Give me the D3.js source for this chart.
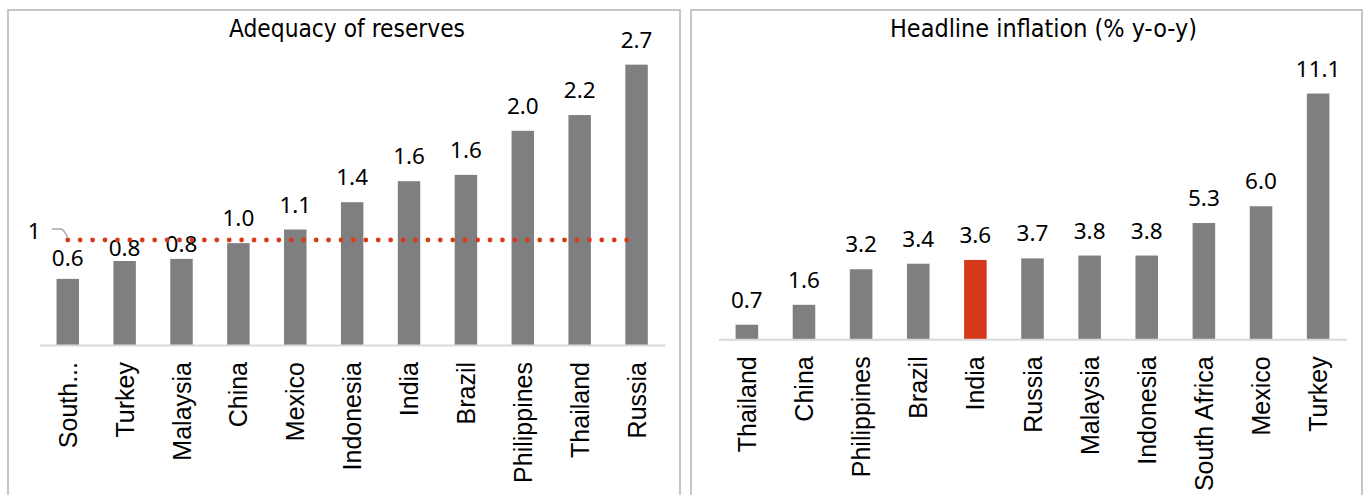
<!DOCTYPE html>
<html>
<head>
<meta charset="utf-8">
<script src="https://cdn.jsdelivr.net/npm/d3@7/dist/d3.min.js"></script>
<style>
  body { margin: 0; background: #ffffff; }
  svg { display: block; }
</style>
</head>
<body>
<svg id="chart" width="1364" height="495"></svg>
<script>
// Reserve adequacy ratio by country (sorted ascending)
const reserveCountries = ["South Africa", "Turkey", "Malaysia", "China", "Mexico", "Indonesia",
  "India", "Brazil", "Philippines", "Thailand", "Russia"];
const reserveValues = [0.63, 0.80, 0.82, 0.97, 1.10, 1.36, 1.56, 1.62, 2.04, 2.19, 2.67];
const reserveThreshold = 1;

// Headline CPI inflation, % y-o-y (sorted ascending)
const inflationCountries = ["Thailand", "China", "Philippines", "Brazil", "India", "Russia",
  "Malaysia", "Indonesia", "South Africa", "Mexico", "Turkey"];
const inflationValues = [0.66, 1.56, 3.17, 3.42, 3.59, 3.66, 3.79, 3.79, 5.26, 6.02, 11.12];
const highlightCountry = "India";

const titles = ["Adequacy of reserves", "Headline inflation (% y-o-y)"];

const svg = d3.select("#chart");
const GREY = "#7f7f7f";
const RED = "#d5381a";
const VALUE_FONT = "'Noto Sans', 'Liberation Sans', Arial, sans-serif";
const LABEL_FONT = "'Liberation Sans', Arial, sans-serif";
const TITLE_FONT = "'Liberation Sans Narrow', 'DejaVu Sans Condensed', 'Liberation Sans', sans-serif";

svg.append("rect").attr("width", 1364).attr("height", 495).attr("fill", "#fff");

// panel frames (open at the bottom edge of the canvas)
[[8, 680], [691, 1362]].forEach(([x0, x1]) => {
  svg.append("path")
    .attr("d", `M${x0},500 V10 H${x1} V500`)
    .attr("fill", "none")
    .attr("stroke", "#b4b4b4")
    .attr("stroke-width", 1.5);
});

function drawPanel(opts) {
  const { countries, values, xRange, baseline, yMax, yTop, title, titleX, titleWidth,
          tickText, colorOf, labelLift } = opts;
  const data = countries.map((c, i) => ({ c, v: values[i] }));

  const x = d3.scaleBand().domain(countries).range(xRange)
    .paddingInner(0.605).paddingOuter(0.3025);
  const y = d3.scaleLinear().domain([0, yMax]).range([baseline, yTop]);

  const g = svg.append("g");

  // bars
  g.selectAll("rect.bar").data(data).join("rect")
    .attr("class", "bar")
    .attr("x", d => x(d.c))
    .attr("y", d => y(d.v))
    .attr("width", x.bandwidth())
    .attr("height", d => baseline - y(d.v))
    .attr("fill", d => colorOf(d.c));

  // category axis
  const axis = g.append("g")
    .attr("transform", `translate(0,${baseline})`)
    .call(d3.axisBottom(x).tickSize(0).tickFormat(tickText));
  axis.select(".domain").attr("stroke", "#d9d9d9").attr("stroke-width", 2);
  axis.selectAll(".tick text")
    .attr("transform", "rotate(-90)")
    .attr("x", -17)
    .attr("y", 0)
    .attr("dy", "0.36em")
    .style("text-anchor", "end")
    .style("font-family", LABEL_FONT)
    .style("font-size", "25px")
    .attr("fill", "#000");

  // value labels
  g.selectAll("text.val").data(data).join("text")
    .attr("class", "val")
    .attr("x", d => x(d.c) + x.bandwidth() / 2)
    .attr("y", d => y(d.v) - (labelLift[d.c] ?? 17))
    .attr("text-anchor", "middle")
    .style("font-family", VALUE_FONT)
    .style("font-size", "22.5px")
    .attr("fill", "#000")
    .text(d => d3.format(".1f")(d.v));

  // title
  g.append("text")
    .attr("x", titleX)
    .attr("y", 37)
    .attr("text-anchor", "middle")
    .attr("textLength", titleWidth)
    .attr("lengthAdjust", "spacingAndGlyphs")
    .style("font-family", TITLE_FONT)
    .style("font-size", "25px")
    .attr("fill", "#000")
    .text(title);

  return { x, y, g };
}

// Left panel: reserve adequacy with the threshold line at 1
const left = drawPanel({
  countries: reserveCountries,
  values: reserveValues,
  xRange: [39.3, 665],
  baseline: 345,
  yMax: 3,
  yTop: 345 - 315,
  title: titles[0],
  titleX: 347,
  titleWidth: 236,
  tickText: d => d === "South Africa" ? "South..." : d,
  colorOf: () => GREY,
  labelLift: { "South Africa": 13, "Turkey": 5, "Malaysia": 6.5 }
});

const thresholdData = reserveCountries.map(c => ({ c, v: reserveThreshold }));
const thresholdLine = d3.line()
  .x(d => left.x(d.c) + left.x.bandwidth() / 2)
  .y(d => left.y(d.v));
left.g.append("path")
  .datum(thresholdData)
  .attr("d", thresholdLine)
  .attr("fill", "none")
  .attr("stroke", "#d83b1a")
  .attr("stroke-width", 4.8)
  .attr("stroke-linecap", "round")
  .attr("stroke-dasharray", "0 12.42");

// label for the threshold, with its leader line
const ty = left.y(reserveThreshold);
const tx = left.x(reserveCountries[0]) + left.x.bandwidth() / 2;
left.g.append("path")
  .attr("d", `M${tx - 16},${ty - 11} H${tx - 7} Q${tx - 4},${ty - 11} ${tx},${ty - 2}`)
  .attr("fill", "none")
  .attr("stroke", "#a6a6a6")
  .attr("stroke-width", 1.3);
left.g.append("text")
  .attr("x", tx - 27)
  .attr("y", ty - 1)
  .attr("text-anchor", "end")
  .style("font-family", VALUE_FONT)
  .style("font-size", "22.5px")
  .attr("fill", "#000")
  .text(String(reserveThreshold));

// Right panel: headline inflation, India highlighted
drawPanel({
  countries: inflationCountries,
  values: inflationValues,
  xRange: [718.3, 1346.7],
  baseline: 339.3,
  yMax: 12,
  yTop: 339.3 - 265.2,
  title: titles[1],
  titleX: 1043.5,
  titleWidth: 307,
  tickText: d => d,
  colorOf: c => c === highlightCountry ? RED : GREY,
  labelLift: {}
});
</script>
</body>
</html>
